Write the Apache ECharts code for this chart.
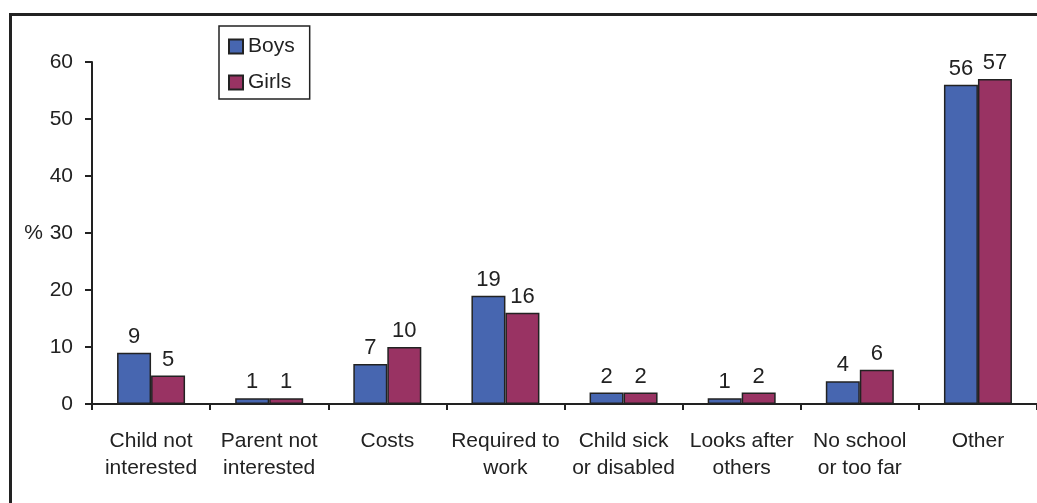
<!DOCTYPE html>
<html><head><meta charset="utf-8">
<script src="https://cdn.jsdelivr.net/npm/echarts@6/dist/echarts.min.js"></script>
<style>html,body{margin:0;padding:0;background:#fff}#c{width:1037px;height:503px}</style>
</head><body><div id="c"></div>
<script>
const categories = ['Child not\ninterested','Parent not\ninterested','Costs','Required to\nwork','Child sick\nor disabled','Looks after\nothers','No school\nor too far','Other'];
const boys = [9, 1, 7, 19, 2, 1, 4, 56];
const girls = [5, 1, 10, 16, 2, 2, 6, 57];
const yTicks = [0, 10, 20, 30, 40, 50, 60];

const font = 'Liberation Sans, Arial, sans-serif';
const ink = '#222';
const fs = 21;
const chart = echarts.init(document.getElementById('c'));
chart.setOption({
  animation: false,
  textStyle: {fontFamily: font},
  graphic: [{type:'rect', left: 8, top: 12, shape:{width: 1060, height: 520}, style:{fill:'none', stroke: ink, lineWidth: 3}, z: -1}],
  grid: {left: 92, top: 62, width: 949, bottom: 99},
  legend: {
    orient: 'vertical', left: 219, top: 26,
    data: ['Boys','Girls'],
    itemWidth: 14, itemHeight: 14, itemGap: 15,
    padding: [10, 15, 6, 9],
    borderColor: ink, borderWidth: 1.5, backgroundColor: '#fff',
    textStyle: {fontSize: fs, color: ink, fontFamily: font, padding: [0,0,0,0]},
    icon: 'rect'
  },
  xAxis: {
    type: 'category', data: categories,
    axisLine: {lineStyle: {color: ink, width: 2}},
    axisTick: {show: true, length: 6, lineStyle: {color: ink, width: 2}},
    axisLabel: {fontSize: fs, color: ink, margin: 24, lineHeight: 27, interval: 0}
  },
  yAxis: {
    type: 'value', min: 0, max: 60, interval: 10,
    name: '%', nameLocation: 'middle', nameGap: 49, nameRotate: 0,
    nameTextStyle: {fontSize: fs, color: ink},
    splitLine: {show: false},
    axisLine: {show: true, lineStyle: {color: ink, width: 2}},
    axisTick: {show: true, length: 7, lineStyle: {color: ink, width: 2}},
    axisLabel: {fontSize: fs, color: ink, margin: 19, formatter: v => yTicks.includes(v) ? String(v) : ''}
  },
  series: [
    {name: 'Boys', type: 'bar', data: boys, barWidth: 34, barGap: '0%',
     itemStyle: {color: '#4766b0', borderColor: ink, borderWidth: 1.5},
     label: {show: true, position: 'top', distance: 5, fontSize: 22, color: ink}},
    {name: 'Girls', type: 'bar', data: girls, barWidth: 34, barGap: '0%',
     itemStyle: {color: '#993363', borderColor: ink, borderWidth: 1.5},
     label: {show: true, position: 'top', distance: 5, fontSize: 22, color: ink}}
  ]
});
</script></body></html>
